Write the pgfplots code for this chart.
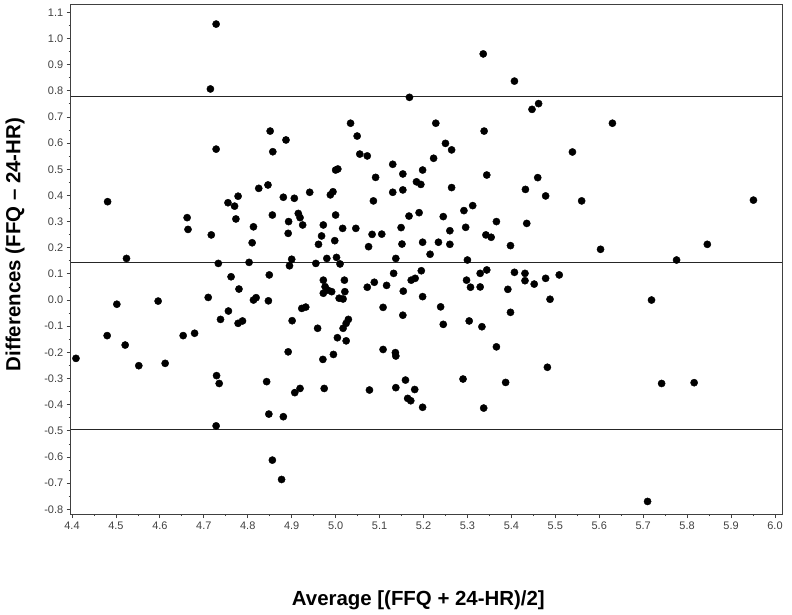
\documentclass[border=0pt]{standalone}
\usepackage{fontspec}
\setmainfont{Liberation Sans}
\usepackage{pgfplots}
\pgfplotsset{compat=1.18}
\definecolor{axisgray}{HTML}{404040}
\begin{document}
\begin{tikzpicture}
\path[use as bounding box] (-70.7bp,-101bp) rectangle (721.3bp,514bp);
\begin{axis}[
    at={(0,0)}, anchor=south west,
    scale only axis,
    width=711.3bp, height=509bp,
    xmin=4.397, xmax=6.016,
    ymin=-0.818, ymax=1.128,
    xtick={4.4,4.5,4.6,4.7,4.8,4.9,5.0,5.1,5.2,5.3,5.4,5.5,5.6,5.7,5.8,5.9,6.0},
    ytick={-0.8,-0.7,-0.6,-0.5,-0.4,-0.3,-0.2,-0.1,0,0.1,0.2,0.3,0.4,0.5,0.6,0.7,0.8,0.9,1.0,1.1},
    minor x tick num=1, minor y tick num=1,
    tick pos=left, tick align=outside,
    major tick length=4bp, minor tick length=2bp,
    axis line style={axisgray, line width=1bp},
    every tick/.style={axisgray, line width=0.8bp},
    /pgf/number format/.cd, fixed, fixed zerofill, precision=1, assume math mode=true,
    /pgfplots/.cd,
    tick label style={font=\fontsize{11}{13}\selectfont, text=black!75},
    xlabel={Average [(FFQ + 24-HR)/2]},
    ylabel={Differences (FFQ – 24-HR)},
    label style={font=\fontsize{20.5}{24}\selectfont\bfseries},
    x label style={at={(axis description cs:0.5,0)}, anchor=center, yshift=-86bp, xshift=-8bp},
    y label style={at={(axis description cs:0,0.5)}, anchor=center, yshift=55.5bp, xshift=15bp},
]
% limits of agreement and mean difference
\addplot[black!85, line width=1bp] coordinates {(4.397,0.777) (6.016,0.777)};
\addplot[black!85, line width=1bp] coordinates {(4.397,0.144) (6.016,0.144)};
\addplot[black!85, line width=1bp] coordinates {(4.397,-0.494) (6.016,-0.494)};
\addplot[only marks, mark=*, mark size=3.6bp, black] table {
x y
4.409 -0.223
4.480 -0.136
4.481 0.376
4.502 -0.016
4.521 -0.172
4.524 0.159
4.552 -0.251
4.596 -0.004
4.612 -0.242
4.653 -0.136
4.662 0.315
4.664 0.270
4.679 -0.127
4.710 0.010
4.715 0.807
4.717 0.249
4.728 1.055
4.728 0.577
4.728 -0.481
4.729 -0.289
4.733 0.140
4.735 -0.319
4.738 -0.074
4.755 0.372
4.756 -0.042
4.762 0.089
4.770 0.359
4.773 0.310
4.778 0.397
4.780 0.042
4.778 -0.089
4.788 -0.080
4.851 0.646
4.887 0.612
4.857 0.567
5.034 0.676
5.049 0.627
5.055 0.558
5.072 0.551
5.168 0.775
5.000 0.497
5.005 0.501
5.130 0.519
5.153 0.482
5.198 0.497
5.091 0.469
5.184 0.452
5.194 0.442
4.825 0.427
4.846 0.440
4.881 0.393
4.906 0.389
4.941 0.412
4.988 0.402
4.994 0.414
5.086 0.379
5.130 0.412
5.153 0.421
4.856 0.325
4.915 0.331
4.919 0.315
4.925 0.287
4.893 0.300
4.892 0.255
4.813 0.280
4.810 0.219
5.000 0.325
4.972 0.287
5.016 0.274
5.046 0.274
4.968 0.245
4.961 0.213
4.998 0.227
5.083 0.251
5.105 0.252
5.075 0.204
5.149 0.277
5.190 0.334
5.167 0.321
5.151 0.214
5.198 0.221
4.803 0.144
4.900 0.156
4.895 0.131
4.955 0.140
4.980 0.159
5.002 0.163
5.010 0.138
5.137 0.159
4.849 0.096
4.972 0.076
5.020 0.076
4.976 0.051
4.982 0.038
4.991 0.032
4.972 0.026
5.021 0.032
5.008 0.007
5.017 0.004
5.072 0.049
5.088 0.068
5.116 0.056
5.132 0.102
5.154 0.034
5.172 0.076
5.181 0.083
5.195 0.112
5.198 0.013
4.813 0.000
4.819 0.009
4.847 -0.003
4.923 -0.032
4.932 -0.027
5.108 -0.028
5.153 -0.058
4.901 -0.079
4.959 -0.108
5.017 -0.108
5.024 -0.089
5.029 -0.074
5.004 -0.144
5.024 -0.156
4.892 -0.198
4.971 -0.227
4.995 -0.208
5.108 -0.189
5.136 -0.201
5.137 -0.214
4.843 -0.312
4.907 -0.354
4.919 -0.338
4.974 -0.338
5.077 -0.344
5.137 -0.335
5.159 -0.306
5.180 -0.342
5.164 -0.376
5.171 -0.385
5.198 -0.410
4.848 -0.436
4.881 -0.446
4.856 -0.612
4.877 -0.686
5.336 0.941
5.407 0.837
5.462 0.751
5.447 0.729
5.228 0.676
5.338 0.646
5.250 0.599
5.264 0.574
5.223 0.542
5.539 0.566
5.630 0.676
5.344 0.478
5.264 0.430
5.432 0.423
5.460 0.468
5.478 0.398
5.560 0.379
5.245 0.319
5.292 0.342
5.312 0.361
5.260 0.265
5.296 0.278
5.366 0.300
5.435 0.293
5.342 0.249
5.354 0.240
5.234 0.221
5.260 0.213
5.398 0.208
5.215 0.175
5.300 0.153
5.603 0.194
5.329 0.102
5.344 0.115
5.298 0.076
5.307 0.049
5.329 0.050
5.407 0.106
5.431 0.102
5.431 0.074
5.452 0.061
5.478 0.083
5.509 0.096
5.392 0.041
5.488 0.003
5.239 -0.026
5.398 -0.047
5.245 -0.093
5.304 -0.080
5.333 -0.102
5.366 -0.179
5.482 -0.257
5.290 -0.302
5.387 -0.315
5.337 -0.413
5.742 -0.319
5.816 -0.316
5.951 0.382
5.846 0.213
5.776 0.153
5.719 0.000
5.710 -0.770
};
\end{axis}
\end{tikzpicture}
\end{document}
